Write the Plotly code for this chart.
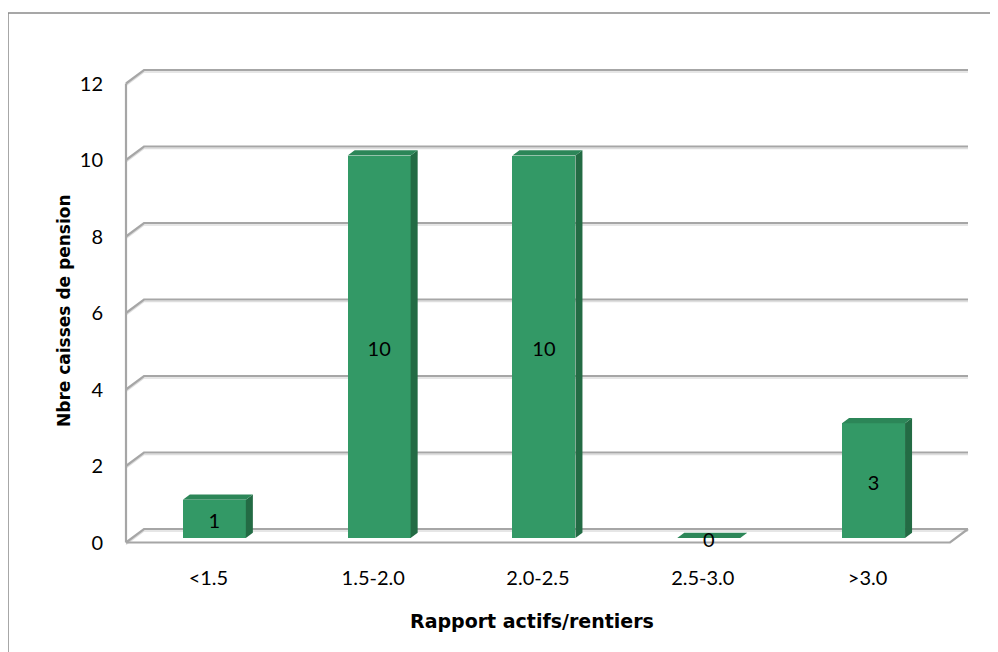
import plotly.graph_objects as go

# ---------------- data ----------------
categories = ["<1.5", "1.5-2.0", "2.0-2.5", "2.5-3.0", ">3.0"]
values = [1, 10, 10, 0, 3]
y_ticks = [0, 2, 4, 6, 8, 10, 12]
x_title = "Rapport actifs/rentiers"
y_title = "Nbre caisses de pension"

# ---------------- geometry ----------------
# page pixel targets; the page body adds an 8px offset, so figure px = page px - OFF
OFF = 8
W, H = 998 - OFF, 652 - OFF
ML = 116 - OFF
MT = 64 - OFF
MR = 998 - 972
MB = 652 - 547
PW, PH = W - ML - MR, H - MT - MB
X0PX, X1PX = 126, 950          # front plane x=-0.5 .. 4.5 (page px)
Y0PX, Y12PX = 542.5, 83.5      # front plane v=0 .. 12 (page px)
PXU = (X1PX - X0PX) / 5.0
PYU = (Y0PX - Y12PX) / 12.0
xr = [-0.5 - (X0PX - (ML + OFF)) / PXU, 4.5 + (972 - X1PX) / PXU]
yr = [-(547 - Y0PX) / PYU, 12 + (Y12PX - (MT + OFF)) / PYU]

DX, DY = 18 / PXU, 13.5 / PYU  # full depth of the 3D box
f0, f1 = 0.33, 0.72            # bar front/back depth fractions
FX, FY = f0 * DX, f0 * DY
BDX, BDY = (f1 - f0) * DX, (f1 - f0) * DY
BW = 63 / PXU
LABEL_DY = -4 / PYU

FRONT = "#339966"
SIDE = "#236b44"
TOP = "#2c8658"
GRID = "#a6a6a6"
SHADOW = "#dedede"
FONT = "Lato, Calibri, Carlito, sans-serif"
TFONT = "DejaVu Sans, Verdana, sans-serif"

idx = list(range(len(categories)))


def pap_x(px):
    return (px - (ML + OFF)) / PW


def pap_y(py):
    return (547 - py) / PH


fig = go.Figure()

shapes = []
SH = 2 / PYU
for v in y_ticks:
    path_s = f"M {-0.5},{v - SH} L {-0.5 + DX},{v + DY - SH} L {4.5 + DX},{v + DY - SH}"
    shapes.append(dict(type="path", xref="x", yref="y", path=path_s,
                       line=dict(color=SHADOW, width=1.5), layer="below"))
    path = f"M {-0.5},{v} L {-0.5 + DX},{v + DY} L {4.5 + DX},{v + DY}"
    shapes.append(dict(type="path", xref="x", yref="y", path=path,
                       line=dict(color=GRID, width=2.2), layer="below"))
shapes.append(dict(type="path", xref="x", yref="y",
                   path=f"M {-0.5},0 L 4.5,0 L {4.5 + DX},{DY}",
                   line=dict(color=GRID, width=2.2), layer="below"))
shapes.append(dict(type="line", xref="x", yref="y", x0=-0.5, x1=-0.5, y0=0, y1=12,
                   line=dict(color=GRID, width=2.2), layer="below"))
shapes.append(dict(type="rect", xref="paper", yref="paper",
                   x0=pap_x(8), x1=pap_x(1010), y0=pap_y(13), y1=pap_y(670),
                   line=dict(color="#8a8a8a", width=1.5), fillcolor="rgba(0,0,0,0)"))

# front faces
fig.add_trace(go.Bar(x=[i + FX for i in idx], y=values, base=FY, width=BW,
                     marker=dict(color=FRONT, line=dict(width=0)),
                     hoverinfo="skip", showlegend=False))

# side & top faces
for i, v in zip(idx, values):
    xl = i + FX - BW / 2
    xr_ = i + FX + BW / 2
    t = FY + v
    fig.add_trace(go.Scatter(
        x=[xr_, xr_, xr_ + BDX, xr_ + BDX, xr_],
        y=[FY, t, t + BDY, FY + BDY, FY],
        fill="toself", fillcolor=SIDE, mode="lines", line=dict(width=0, color=SIDE),
        hoverinfo="skip", showlegend=False))
    fig.add_trace(go.Scatter(
        x=[xl, xr_, xr_ + BDX, xl + BDX, xl],
        y=[t, t, t + BDY, t + BDY, t],
        fill="toself", fillcolor=TOP, mode="lines", line=dict(width=0, color=TOP),
        hoverinfo="skip", showlegend=False))

# data labels
fig.add_trace(go.Scatter(
    x=[i + FX for i in idx], y=[FY + v / 2 + LABEL_DY for v in values],
    mode="text", text=[str(v) for v in values],
    textfont=dict(family=FONT, size=20, color="black"),
    hoverinfo="skip", showlegend=False, cliponaxis=False))

fig.update_layout(
    width=W, height=H,
    margin=dict(l=ML, r=MR, t=MT, b=MB),
    paper_bgcolor="white", plot_bgcolor="white",
    shapes=shapes,
    font=dict(family=FONT, size=20, color="black"),
    xaxis=dict(range=xr, tickvals=idx, ticktext=categories, showgrid=False,
               zeroline=False, showline=False, ticks="outside", ticklen=13,
               tickcolor="rgba(0,0,0,0)", tickfont=dict(family=FONT, size=20),
               fixedrange=True),
    yaxis=dict(range=yr, tickvals=y_ticks, showgrid=False, zeroline=False,
               showline=False, ticks="outside", ticklen=8, tickcolor="rgba(0,0,0,0)",
               tickfont=dict(family=FONT, size=20), fixedrange=True),
    annotations=[
        dict(text=f"<b>{y_title}</b>", xref="paper", yref="paper",
             x=pap_x(64), y=pap_y(311), textangle=-90, showarrow=False,
             xanchor="center", yanchor="middle", font=dict(family=TFONT, size=17)),
        dict(text=f"<b>{x_title}</b>", xref="paper", yref="paper",
             x=pap_x(532), y=pap_y(621), showarrow=False,
             xanchor="center", yanchor="middle", font=dict(family=TFONT, size=19)),
    ],
    bargap=0,
)

fig.write_html("out.html")
